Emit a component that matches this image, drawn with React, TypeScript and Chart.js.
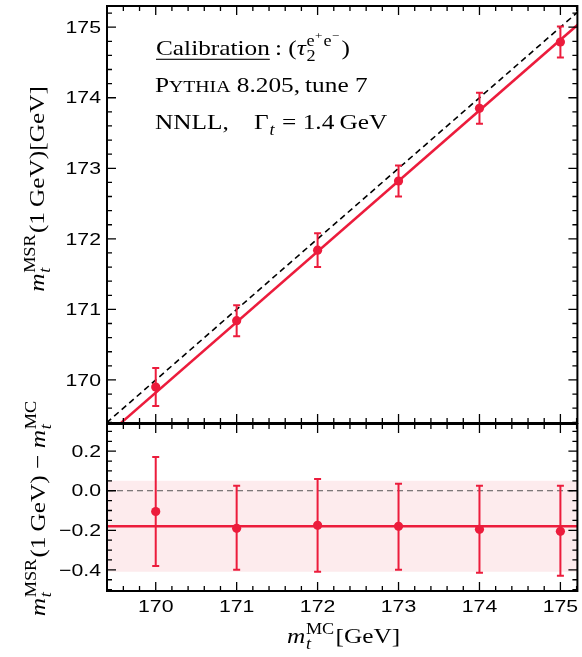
import React, { useEffect, useRef } from 'react';
import { Chart, registerables } from 'chart.js';

Chart.register(...registerables);

// ---------------- data ----------------
const mcMass = [170, 171, 172, 173, 174, 175];
const msrMass = [169.9, 170.84, 171.84, 172.82, 173.85, 174.79];
const msrErrUp = [0.27, 0.22, 0.24, 0.22, 0.22, 0.22];
const msrErrDown = [0.27, 0.22, 0.24, 0.22, 0.22, 0.22];
const massDiff = [-0.105, -0.19, -0.175, -0.18, -0.195, -0.205];
const diffErrUp = [0.275, 0.215, 0.235, 0.215, 0.22, 0.23];
const diffErrDown = [0.275, 0.21, 0.235, 0.22, 0.22, 0.225];
const fitLineX = [169.3, 175.4];
const fitLineY = [169.12, 175.22];
const diagonalX = [169.3, 175.4];
const diagonalY = [169.3, 175.4];
const fitDiff = -0.18;
const bandLow = -0.41;
const bandHigh = 0.05;
const zeroLine = 0;
const xRange = [169.398, 175.21];
const yTopRange = [169.39, 175.3];
const yBotRange = [-0.507, 0.3375];
const xTicks = [170, 171, 172, 173, 174, 175];
const xTickLabels = ['170', '171', '172', '173', '174', '175'];
const yTopTicks = [170, 171, 172, 173, 174, 175];
const yTopLabels = ['170', '171', '172', '173', '174', '175'];
const yBotTicks = [-0.4, -0.2, 0, 0.2];
const yBotLabels = ['\u22120.4', '\u22120.2', '0.0', '0.2'];

// ---------------- style / layout ----------------
const W = 582;
const H = 657;
const LEFT = 107;
const RIGHT = 580;
const TOP = 6;
const MID = 423;
const BOTTOM = 591;
const RED = '#ec1c3c';
const BAND = 'rgba(236,28,60,0.09)';
const MAJ = 9;
const MIN = 5;
const SANS = "'Liberation Sans'";
const SERIF = "'Liberation Serif'";
const SANS_SIZE = 17;
const SANS_HS = 1.25;
const SERIF_SIZE = 22;
const SERIF_HS = 1.15;
const SCRIPT = 0.72;

type Run = { t?: string; it?: boolean; s?: number; ul?: boolean; sup?: Run[]; sub?: Run[] };

const yTopTitle: Run[] = [
  { t: 'm', it: true },
  { sup: [{ t: 'MSR' }], sub: [{ t: 't', it: true }] },
  { t: '(1\u2009GeV)[GeV]' },
];
const yBotTitle: Run[] = [
  { t: 'm', it: true },
  { sup: [{ t: 'MSR' }], sub: [{ t: 't', it: true }] },
  { t: '(1\u2009GeV) \u2212 ' },
  { t: 'm', it: true },
  { sup: [{ t: 'MC' }], sub: [{ t: 't', it: true }] },
];
const xTitle: Run[] = [
  { t: 'm', it: true },
  { sup: [{ t: 'MC' }], sub: [{ t: 't', it: true }] },
  { t: '[GeV]' },
];
const note1: Run[] = [
  { t: 'Calibration', ul: true },
  { t: '\u2009: (' },
  { t: '\u03c4', it: true },
  { sup: [{ t: 'e' }, { sup: [{ t: '+' }] }, { t: 'e' }, { sup: [{ t: '\u2212' }] }], sub: [{ t: '2' }] },
  { t: ')' },
];
const note2: Run[] = [{ t: 'P' }, { t: 'YTHIA', s: 0.78 }, { t: ' 8.205,\u2009tune 7' }];
const note3: Run[] = [{ t: 'NNLL,\u2003\u0393' }, { sub: [{ t: 't', it: true }] }, { t: ' = 1.4\u2009GeV' }];

function setFont(ctx: CanvasRenderingContext2D, size: number, it?: boolean) {
  ctx.font = `${it ? 'italic ' : ''}${size}px ${SERIF}`;
}

function measureRuns(ctx: CanvasRenderingContext2D, runs: Run[], size: number): number {
  let w = 0;
  for (const r of runs) {
    if (r.t !== undefined) {
      setFont(ctx, size * (r.s ?? 1), r.it);
      w += ctx.measureText(r.t).width;
    } else {
      const ss = size * SCRIPT;
      const a = r.sup ? measureRuns(ctx, r.sup, ss) : 0;
      const b = r.sub ? measureRuns(ctx, r.sub, ss) : 0;
      w += Math.max(a, b) + size * 0.08;
    }
  }
  return w;
}

function drawRunsAt(ctx: CanvasRenderingContext2D, runs: Run[], x: number, y: number, size: number): number {
  for (const r of runs) {
    if (r.t !== undefined) {
      setFont(ctx, size * (r.s ?? 1), r.it);
      const w = ctx.measureText(r.t).width;
      ctx.fillText(r.t, x, y);
      if (r.ul) ctx.fillRect(x, y + size * 0.17, w, Math.max(1, size * 0.05));
      x += w;
    } else {
      const ss = size * SCRIPT;
      const x0 = x + size * 0.03;
      let a = 0;
      let b = 0;
      if (r.sup) a = drawRunsAt(ctx, r.sup, x0, y - size * 0.42, ss) - x0;
      if (r.sub) b = drawRunsAt(ctx, r.sub, x0, y + size * 0.25, ss) - x0;
      x += Math.max(a, b) + size * 0.08;
    }
  }
  return x;
}

function drawMath(ctx: CanvasRenderingContext2D, runs: Run[], x: number, y: number, align: 'left' | 'center', rot = 0) {
  ctx.save();
  ctx.translate(x, y);
  if (rot) ctx.rotate(rot);
  ctx.scale(SERIF_HS, 1);
  ctx.textAlign = 'left';
  ctx.textBaseline = 'alphabetic';
  ctx.fillStyle = '#000';
  const w = measureRuns(ctx, runs, SERIF_SIZE);
  drawRunsAt(ctx, runs, align === 'center' ? -w / 2 : 0, 0, SERIF_SIZE);
  ctx.restore();
}

function sansLabel(ctx: CanvasRenderingContext2D, text: string, x: number, y: number, align: CanvasTextAlign, base: CanvasTextBaseline) {
  ctx.save();
  ctx.translate(x, y);
  ctx.scale(SANS_HS, 1);
  ctx.font = `${SANS_SIZE}px ${SANS}`;
  ctx.fillStyle = '#000';
  ctx.textAlign = align;
  ctx.textBaseline = base;
  ctx.fillText(text, 0, 0);
  ctx.restore();
}

function frameAndTicks(chart: any, yStep: number, yMajorEvery: number) {
  const { ctx, chartArea: a, scales } = chart;
  const xs = scales.x;
  const ys = scales.y;
  ctx.save();
  ctx.strokeStyle = '#000';
  ctx.lineWidth = 1.3;
  ctx.beginPath();
  const i0 = Math.ceil(xs.min / 0.2 - 1e-6);
  const i1 = Math.floor(xs.max / 0.2 + 1e-6);
  for (let i = i0; i <= i1; i++) {
    const px = xs.getPixelForValue(i * 0.2);
    const len = i % 5 === 0 ? MAJ : MIN;
    ctx.moveTo(px, a.bottom);
    ctx.lineTo(px, a.bottom - len);
    ctx.moveTo(px, a.top);
    ctx.lineTo(px, a.top + len);
  }
  const j0 = Math.ceil(ys.min / yStep - 1e-6);
  const j1 = Math.floor(ys.max / yStep + 1e-6);
  for (let j = j0; j <= j1; j++) {
    const py = ys.getPixelForValue(j * yStep);
    const len = ((j % yMajorEvery) + yMajorEvery) % yMajorEvery === 0 ? MAJ : MIN;
    ctx.moveTo(a.left, py);
    ctx.lineTo(a.left + len, py);
    ctx.moveTo(a.right, py);
    ctx.lineTo(a.right - len, py);
  }
  ctx.stroke();
  ctx.lineWidth = 2;
  ctx.strokeRect(a.left, a.top, a.right - a.left, a.bottom - a.top);
  ctx.restore();
}

function errorBars(chart: any, vals: number[], up: number[], dn: number[]) {
  const { ctx, scales } = chart;
  ctx.save();
  ctx.strokeStyle = RED;
  ctx.lineWidth = 2;
  ctx.beginPath();
  mcMass.forEach((m, i) => {
    const px = scales.x.getPixelForValue(m);
    const t = scales.y.getPixelForValue(vals[i] + up[i]);
    const b = scales.y.getPixelForValue(vals[i] - dn[i]);
    ctx.moveTo(px, t);
    ctx.lineTo(px, b);
    ctx.moveTo(px - 3.5, t);
    ctx.lineTo(px + 3.5, t);
    ctx.moveTo(px - 3.5, b);
    ctx.lineTo(px + 3.5, b);
  });
  ctx.stroke();
  ctx.restore();
}

const pts = (xs: number[], ys: number[]) => xs.map((x, i) => ({ x, y: ys[i] }));

function baseOptions(padTop: number, padBottom: number, yr: number[]): any {
  return {
    responsive: false,
    animation: false,
    events: [],
    layout: { padding: { left: LEFT, right: W - RIGHT, top: padTop, bottom: padBottom } },
    plugins: { legend: { display: false }, tooltip: { enabled: false } },
    scales: {
      x: { type: 'linear', display: false, min: xRange[0], max: xRange[1] },
      y: { type: 'linear', display: false, min: yr[0], max: yr[1] },
    },
  };
}

export default function App() {
  const topRef = useRef<HTMLCanvasElement>(null);
  const botRef = useRef<HTMLCanvasElement>(null);

  useEffect(() => {
    const top = new Chart(topRef.current as HTMLCanvasElement, {
      type: 'scatter',
      data: {
        datasets: [
          {
            data: pts(mcMass, msrMass),
            pointRadius: 4.6,
            pointBackgroundColor: RED,
            pointBorderColor: RED,
            pointBorderWidth: 0,
            order: 0,
          } as any,
          {
            data: pts(fitLineX, fitLineY),
            showLine: true,
            borderColor: RED,
            borderWidth: 2.5,
            pointRadius: 0,
            clip: 0,
            order: 1,
          },
          {
            data: pts(diagonalX, diagonalY),
            showLine: true,
            borderColor: '#000',
            borderWidth: 1.6,
            borderDash: [6, 4],
            pointRadius: 0,
            clip: 0,
            order: 2,
          },
        ],
      },
      options: baseOptions(TOP, H - MID, yTopRange),
      plugins: [
        {
          id: 'topDecor',
          afterDatasetsDraw(chart: any) {
            errorBars(chart, msrMass, msrErrUp, msrErrDown);
            frameAndTicks(chart, 0.2, 5);
            const ctx = chart.ctx;
            yTopTicks.forEach((v, i) => {
              sansLabel(ctx, yTopLabels[i], 101, chart.scales.y.getPixelForValue(v) + 1, 'right', 'middle');
            });
            drawMath(ctx, yTopTitle, 44, 189, 'center', -Math.PI / 2);
            drawMath(ctx, note1, 156, 55, 'left');
            drawMath(ctx, note2, 155, 92, 'left');
            drawMath(ctx, note3, 155, 129, 'left');
          },
        },
      ],
    } as any);

    const bot = new Chart(botRef.current as HTMLCanvasElement, {
      type: 'scatter',
      data: {
        datasets: [
          {
            data: pts(mcMass, massDiff),
            pointRadius: 4.6,
            pointBackgroundColor: RED,
            pointBorderColor: RED,
            pointBorderWidth: 0,
            order: 0,
          } as any,
          {
            data: pts(xRange, [fitDiff, fitDiff]),
            showLine: true,
            borderColor: RED,
            borderWidth: 2.5,
            pointRadius: 0,
            clip: 0,
            order: 1,
          },
          {
            data: pts(xRange, [zeroLine, zeroLine]),
            showLine: true,
            borderColor: '#555',
            borderWidth: 1,
            borderDash: [6, 4],
            pointRadius: 0,
            clip: 0,
            order: 2,
          },
          {
            data: pts(xRange, [bandHigh, bandHigh]),
            showLine: true,
            borderColor: 'rgba(0,0,0,0)',
            borderWidth: 1,
            backgroundColor: BAND,
            fill: { value: bandLow },
            pointRadius: 0,
            clip: 0,
            order: 3,
          },
        ],
      },
      options: baseOptions(MID + 1, H - BOTTOM, yBotRange),
      plugins: [
        {
          id: 'botDecor',
          afterDatasetsDraw(chart: any) {
            errorBars(chart, massDiff, diffErrUp, diffErrDown);
            frameAndTicks(chart, 0.05, 4);
            const ctx = chart.ctx;
            yBotTicks.forEach((v, i) => {
              sansLabel(ctx, yBotLabels[i], 101, chart.scales.y.getPixelForValue(v) + 1, 'right', 'middle');
            });
            xTicks.forEach((v, i) => {
              sansLabel(ctx, xTickLabels[i], chart.scales.x.getPixelForValue(v), 612, 'center', 'alphabetic');
            });
            drawMath(ctx, yBotTitle, 45, 508, 'center', -Math.PI / 2);
            drawMath(ctx, xTitle, (LEFT + RIGHT) / 2, 643, 'center');
          },
        },
      ],
    } as any);

    return () => {
      top.destroy();
      bot.destroy();
    };
  }, []);

  return (
    <div style={{ position: 'absolute', left: 0, top: 0, width: W, height: H, background: '#fff' }}>
      <canvas ref={topRef} width={W} height={H} style={{ position: 'absolute', left: 0, top: 0 }} />
      <canvas ref={botRef} width={W} height={H} style={{ position: 'absolute', left: 0, top: 0 }} />
    </div>
  );
}
